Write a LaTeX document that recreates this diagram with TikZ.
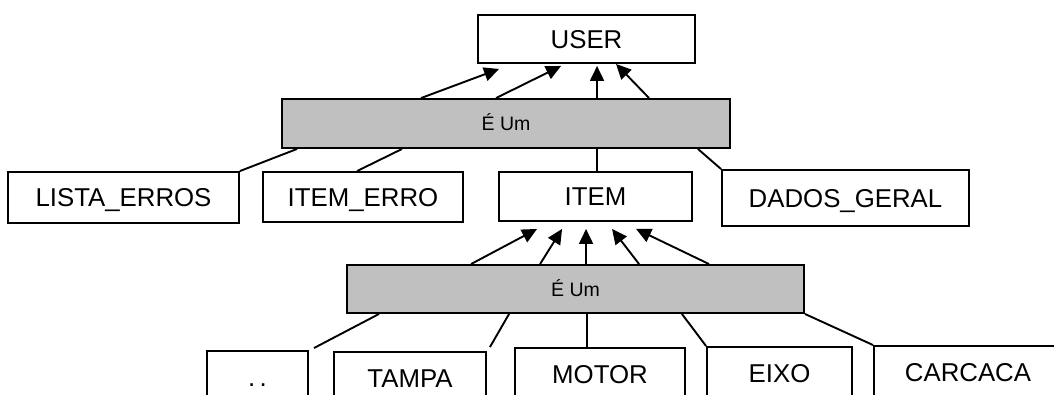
\documentclass[tikz,border=0pt]{standalone}
\usepackage{fontspec}
\setmainfont{Liberation Sans}
\usetikzlibrary{arrows.meta}
\definecolor{barfill}{HTML}{C0C0C0}

\begin{document}
\begin{tikzpicture}[x=1pt,y=-1pt,
  box/.style={draw, line width=1.9pt, fill=white, inner sep=0pt,
    text height=18.5pt, text depth=0pt,
    font=\fontsize{25.8}{30}\selectfont},
  bar/.style={draw, line width=1.9pt, fill=barfill, inner sep=0pt,
    text height=14pt, text depth=0pt,
    font=\fontsize{19.5}{24}\selectfont},
  link/.style={line width=1.9pt},
  isa/.style={line width=1.9pt, -{Triangle[length=15pt,width=14pt]}}]
\useasboundingbox (0,0) rectangle (1054,394);
\clip (0,0) rectangle (1054,394);

% top level class
\node[box, minimum width=217pt, minimum height=48pt] (user) at (586.5,39) {USER};

% first generalisation bar
\node[bar, minimum width=448pt, minimum height=49pt] (isa1) at (506,123.5) {É Um};

% subclasses of USER
\node[box, minimum width=231pt, minimum height=51pt] (lista) at (123.5,197.5) {LISTA\_ERROS};
\node[box, minimum width=200pt, minimum height=50pt] (itemerro) at (363,197) {ITEM\_ERRO};
\node[box, minimum width=193pt, minimum height=49pt] (item) at (595.5,196.5) {ITEM};
\node[box, minimum width=247pt, minimum height=56pt] (dados) at (845.5,198) {DADOS\_GERAL};

% second generalisation bar
\node[bar, minimum width=457pt, minimum height=48pt] (isa2) at (575.5,289) {É Um};

% subclasses of ITEM
\node[box, minimum width=101pt, minimum height=52pt] (dots) at (257.5,377) {.\,.};
\node[box, minimum width=152pt, minimum height=52pt] (tampa) at (410,378) {TAMPA};
\node[box, minimum width=170pt, minimum height=52pt] (motor) at (600,374) {MOTOR};
\node[box, minimum width=145pt, minimum height=52pt] (eixo) at (779.5,373) {EIXO};
\node[box, minimum width=188pt, minimum height=52pt] (carcaca) at (968,372) {CARCACA};

% inheritance arrows into USER
\draw[isa] ([xshift=140pt]isa1.north west) -- ([xshift=22pt,yshift=-5pt]user.south west);
\draw[isa] ([xshift=215pt]isa1.north west) -- ([xshift=84pt,yshift=-2pt]user.south west);
\draw[isa] ([xshift=316pt]isa1.north west) -- ([xshift=120pt,yshift=-2pt]user.south west);
\draw[isa] ([xshift=368pt]isa1.north west) -- ([xshift=139pt]user.south west);

% links from the first bar to the subclasses
\draw[link] ([xshift=16pt]isa1.south west) -- (lista.north east);
\draw[link] ([xshift=121pt]isa1.south west) -- ([xshift=95pt]itemerro.north west);
\draw[link] ([xshift=316pt]isa1.south west) -- ([xshift=99pt]item.north west);
\draw[link] ([xshift=-33pt]isa1.south east) -- (dados.north west);

% inheritance arrows into ITEM
\draw[isa] ([xshift=125pt]isa2.north west) -- ([xshift=39pt,yshift=-7pt]item.south west);
\draw[isa] ([xshift=194pt]isa2.north west) -- ([xshift=64pt,yshift=-7pt]item.south west);
\draw[isa] ([xshift=240pt]isa2.north west) -- ([xshift=88pt,yshift=-7pt]item.south west);
\draw[isa] ([xshift=293pt]isa2.north west) -- ([xshift=114pt,yshift=-7pt]item.south west);
\draw[isa] ([xshift=363pt]isa2.north west) -- ([xshift=138pt,yshift=-7pt]item.south west);

% links from the second bar to the subclasses
\draw[link] ([xshift=33pt]isa2.south west) -- ([xshift=5pt,yshift=2pt]dots.north east);
\draw[link] ([xshift=163pt]isa2.south west) -- ([xshift=3pt,yshift=4pt]tampa.north east);
\draw[link] ([xshift=241pt]isa2.south west) -- ([xshift=73pt]motor.north west);
\draw[link] ([xshift=-123pt]isa2.south east) -- (eixo.north west);
\draw[link] (isa2.south east) -- (carcaca.north west);
\end{tikzpicture}
\end{document}
